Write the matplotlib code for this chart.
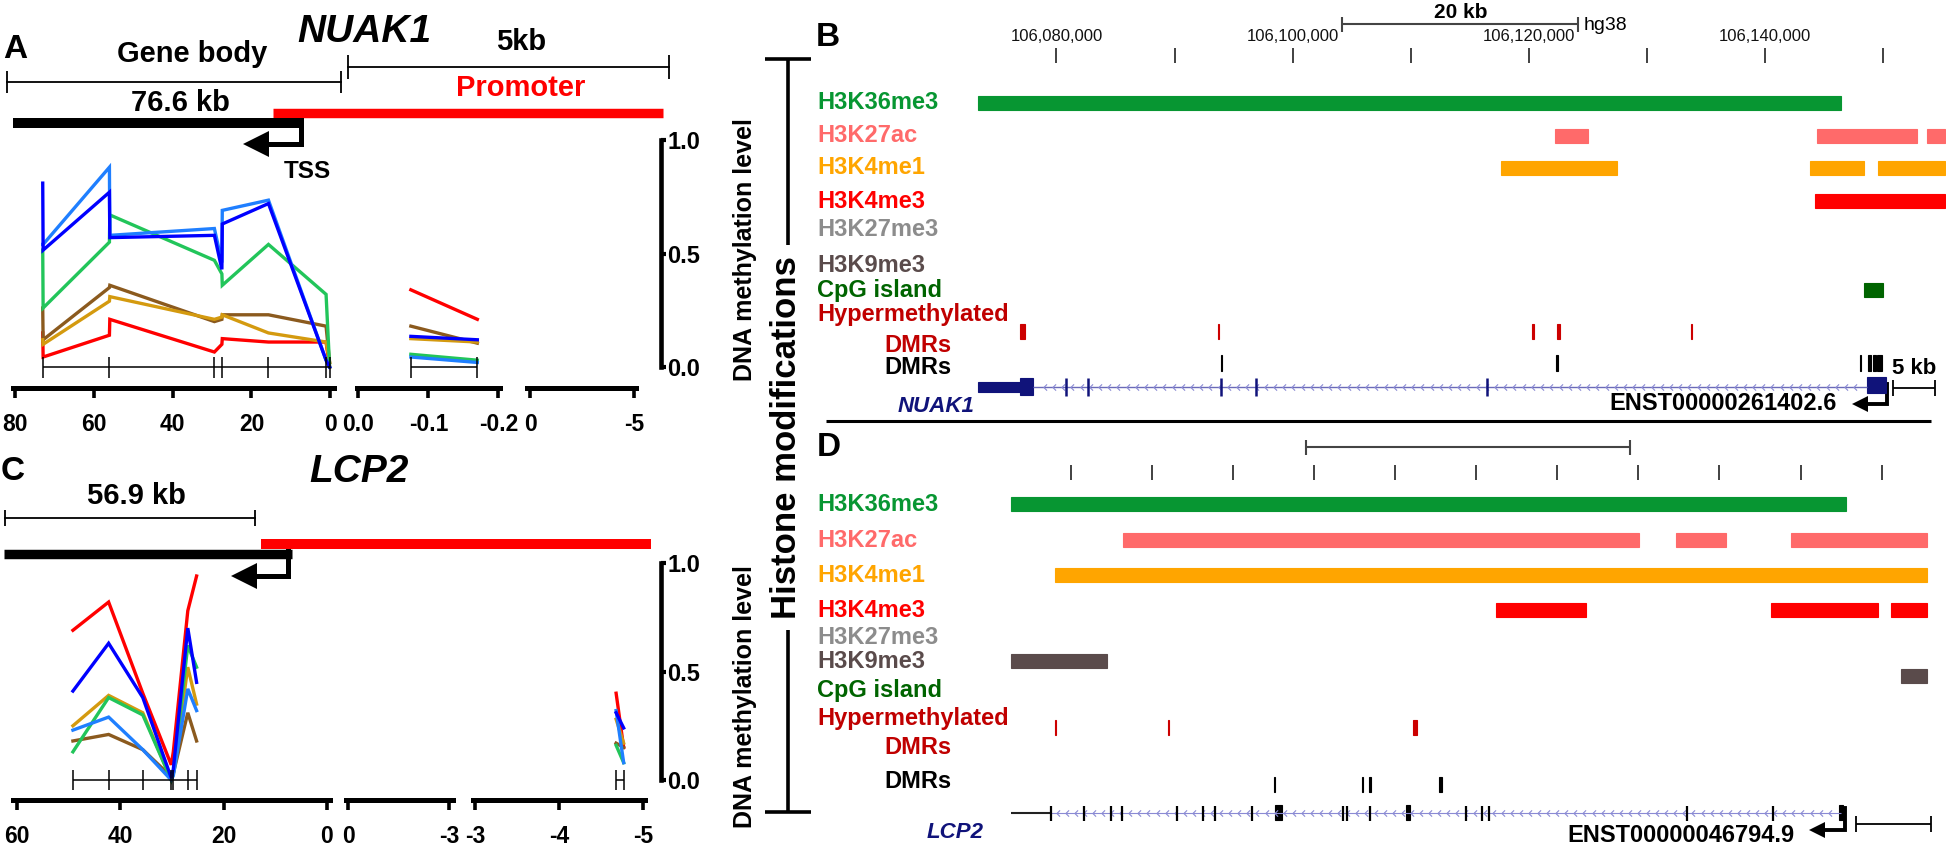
import numpy as np
import matplotlib.pyplot as plt
from matplotlib.path import Path

plt.rcParams['font.family'] = ['Liberation Sans', 'DejaVu Sans']
plt.rcParams['font.weight'] = 'bold'

W, H = 1946, 852

# ---------------- methylation data (kb from TSS, methylation level) ----------------
sample_colors = ['#ff0000', '#8b5a1e', '#d49a0f', '#22c55a', '#1f7fff', '#0000ff']

nuak1_body_kb = [72.9, 72.8, 56.0, 55.9, 29.4, 27.5, 27.4, 15.7, 1.1, 0.2]
nuak1_cpg_kb = [72.8, 56.0, 29.4, 27.4, 15.7, 1.1, 0.2]
nuak1_body_vals = [
    [0.15, 0.044, 0.14, 0.21, 0.066, 0.10, 0.125, 0.11, 0.11, 0.0],   # red
    [0.26, 0.12, 0.35, 0.36, 0.20, 0.21, 0.23, 0.23, 0.18, 0.02],     # brown
    [0.12, 0.10, 0.29, 0.31, 0.21, 0.22, 0.23, 0.15, 0.11, 0.02],     # gold
    [0.515, 0.26, 0.55, 0.67, 0.47, 0.41, 0.36, 0.54, 0.32, 0.0],     # green
    [0.54, 0.54, 0.88, 0.58, 0.61, 0.46, 0.69, 0.735, 0.03, 0.0],     # light blue
    [0.81, 0.515, 0.77, 0.57, 0.58, 0.43, 0.63, 0.72, 0.03, 0.0],     # blue
]
nuak1_prom_kb = [-0.075, -0.17]
nuak1_prom_vals = [
    [0.34, 0.21], [0.18, 0.105], [0.125, 0.11], [0.056, 0.03], [0.044, 0.02], [0.135, 0.12],
]

lcp2_body_kb = [49.1, 42.2, 35.6, 30.1, 29.7, 26.9, 25.2]
lcp2_body_vals = [
    [0.69, 0.82, 0.40, 0.07, 0.13, 0.78, 0.94],
    [0.18, 0.21, 0.14, 0.015, 0.03, 0.31, 0.18],
    [0.25, 0.39, 0.31, 0.0, 0.03, 0.52, 0.35],
    [0.13, 0.38, 0.30, 0.0, 0.03, 0.62, 0.52],
    [0.23, 0.29, 0.14, 0.0, 0.02, 0.42, 0.32],
    [0.41, 0.63, 0.38, 0.01, 0.05, 0.70, 0.45],
]
lcp2_prom_kb = [-4.68, -4.77]
lcp2_prom_vals = [
    [0.40, 0.15], [0.17, 0.15], [0.28, 0.17], [0.16, 0.08], [0.32, 0.08], [0.31, 0.24],
]

# ---------------- genome browser tracks ----------------
track_names = ['H3K36me3', 'H3K27ac', 'H3K4me1', 'H3K4me3', 'H3K27me3', 'H3K9me3', 'CpG island']
track_colors = ['#079632', '#ff6a6a', '#ffa500', '#ff0000', '#8c8c8c', '#5a4b4b', '#006400']

# NUAK1 (kb, position = 106,000,000 + kb*1000)
b_ticks_kb = [80, 90, 100, 110, 120, 130, 140, 150]
b_tick_labels = ['106,080,000', '', '106,100,000', '', '106,120,000', '', '106,140,000', '']
b_tracks = [
    [(73.35, 146.4)],
    [(122.2, 125.0), (144.4, 152.9), (153.7, 155.2)],
    [(117.6, 127.5), (143.8, 148.4), (149.6, 155.2)],
    [(144.2, 155.2)],
    [],
    [],
    [(148.4, 150.0)],
]
b_hyper = [(76.9, 77.3), (93.7, 93.8), (120.3, 120.4), (122.4, 122.6), (133.75, 133.85)]
b_dmrs = [(93.9, 94.0), (122.33, 122.43), (148.0, 148.1), (148.7, 148.95), (149.1, 149.4), (149.5, 149.9)]
b_exons = [80.8, 82.7, 93.9, 96.9, 116.45]
b_ruler = (104.2, 124.2)

# LCP2 (kb from first browser tick)
d_ticks_kb = [0, 5, 10, 15, 20, 25, 30, 35, 40, 45, 50]
d_tracks = [
    [(-3.7, 47.8)],
    [(3.26, 35.03), (37.3, 40.4), (44.4, 52.8)],
    [(-0.94, 52.8)],
    [(26.2, 31.8), (43.2, 49.8), (50.6, 52.8)],
    [],
    [(-3.7, 2.24)],
    [],
]
d_k9_extra = [(51.2, 52.8)]
d_hyper = [(-0.95, -0.89), (6.01, 6.07), (21.1, 21.35)]
d_dmrs = [(12.51, 12.57), (17.95, 18.01), (18.4, 18.5), (22.7, 22.9)]
d_exons = [-1.18, 0.85, 2.50, 3.14, 6.55, 8.16, 8.90, 11.17, 16.79, 17.03, 18.45,
           24.35, 25.36, 25.78, 37.98, 43.3]
d_exon_blocks = [(12.58, 13.05), (20.7, 20.95), (47.35, 47.6)]
d_ruler = (14.5, 34.5)


def rect(x0, y0, x1, y1):
    return [x0 / W, 1 - y1 / H, (x1 - x0) / W, (y1 - y0) / H]


fig = plt.figure(figsize=(W / 100, H / 100), dpi=100)
ov = fig.add_axes([0, 0, 1, 1])
ov.set_xlim(0, W)
ov.set_ylim(H, 0)
ov.axis('off')


def txt(x, y, s, size, color='black', ha='center', style='normal', rot=0, weight='bold'):
    ov.text(x, y, s, fontsize=size, color=color, ha=ha, va='center', style=style,
            rotation=rot, fontweight=weight)


def meth_axes(x0, x1, ytop, ybot, xlim, ylim, ticks, labels):
    ax = fig.add_axes(rect(x0, ytop, x1, ybot))
    ax.patch.set_alpha(0)
    ax.set_xlim(*xlim)
    ax.set_ylim(*ylim)
    for s in ['top', 'left', 'right']:
        ax.spines[s].set_visible(False)
    ax.spines['bottom'].set_linewidth(3.6)
    ax.set_yticks([])
    ax.set_xticks(ticks)
    ax.set_xticklabels(labels)
    ax.tick_params(axis='x', direction='out', length=7, width=2.6, labelsize=16.5, pad=11)
    return ax


def meth_lines(ax, kb, vals, cpg):
    for c, v in zip(sample_colors, vals):
        ax.plot(kb, v, color=c, lw=2.4, solid_joinstyle='miter')
    ax.hlines(0, min(cpg), max(cpg), color='black', lw=1.1)
    ax.vlines(cpg, -0.047, 0.045, color='black', lw=1.1)


def y_axis(ytop, ybot, ylim):
    ax = fig.add_axes(rect(600, ytop, 661, ybot))
    ax.patch.set_alpha(0)
    ax.set_ylim(*ylim)
    for s in ['top', 'left', 'bottom']:
        ax.spines[s].set_visible(False)
    ax.spines['right'].set_linewidth(3.3)
    ax.spines['right'].set_bounds(0, 1)
    ax.set_xticks([])
    ax.yaxis.tick_right()
    ax.set_yticks([0, 0.5, 1.0])
    ax.set_yticklabels(['0.0', '0.5', '1.0'])
    ax.tick_params(axis='y', direction='out', length=3.5, width=3.0, labelsize=17, pad=1)


# ---------------- panel A ----------------
ylimA = (-0.0925, 1.0)
a1 = meth_axes(12.5, 334, 140, 388, (80.56, -0.91), ylimA, [80, 60, 40, 20, 0],
               ['80', '60', '40', '20', '0'])
meth_lines(a1, nuak1_body_kb, nuak1_body_vals, nuak1_cpg_kb)
a2 = meth_axes(357, 500, 140, 388, (0.002, -0.2024), ylimA, [0, -0.1, -0.2],
               ['0.0', '-0.1', '-0.2'])
meth_lines(a2, nuak1_prom_kb, nuak1_prom_vals, nuak1_prom_kb)
a3 = meth_axes(527, 636, 140, 388, (0.145, -5.10), ylimA, [0, -5], ['0', '-5'])
y_axis(140, 388, ylimA)

txt(15, 50, 'A', 24)
txt(364, 32, 'NUAK1', 28, style='italic')
txt(192, 54, 'Gene body', 21)
txt(521, 42, '5kb', 21)
txt(521, 88, 'Promoter', 21, color='#ff0000')
txt(180, 103, '76.6 kb', 21)
txt(307, 172, 'TSS', 17.5)
ov.plot([7, 341], [82, 82], color='black', lw=1.3)
ov.vlines([7, 341], 71, 93, color='black', lw=1.3)
ov.plot([348, 669], [67, 67], color='black', lw=1.3)
ov.vlines([348, 669], 55, 79, color='black', lw=1.3)
ov.plot([273, 663], [112.5, 112.5], color='#ff0000', lw=6.8, solid_capstyle='butt')
ov.plot([13, 304], [123, 123], color='black', lw=7.2, solid_capstyle='butt')
ov.plot([301, 301, 262], [120, 144, 144], color='black', lw=3.6, solid_joinstyle='miter')
ov.plot([256], [144], marker='<', color='black', markersize=19, markeredgewidth=0)
txt(745, 250, 'DNA methylation level', 18, rot=90)

# ---------------- panel C ----------------
ylimC = (-0.092, 1.0)
c1 = meth_axes(13, 330, 563, 800, (60.68, -0.58), ylimC, [60, 40, 20, 0],
               ['60', '40', '20', '0'])
meth_lines(c1, lcp2_body_kb, lcp2_body_vals, lcp2_body_kb)
c2 = meth_axes(346, 453, 563, 800, (0.06, -3.12), ylimC, [0, -3], ['0', '-3'])
c3 = meth_axes(473, 645, 563, 800, (-2.976, -5.024), ylimC, [-3, -4, -5], ['-3', '-4', '-5'])
meth_lines(c3, lcp2_prom_kb, lcp2_prom_vals, lcp2_prom_kb)
y_axis(563, 800, ylimC)

txt(13, 472, 'C', 24)
txt(359, 472, 'LCP2', 28, style='italic')
txt(136, 496, '56.9 kb', 21)
ov.plot([4.5, 255], [518, 518], color='black', lw=1.3)
ov.vlines([4.5, 255], 510, 526, color='black', lw=1.3)
ov.plot([261, 651], [544, 544], color='#ff0000', lw=7.2, solid_capstyle='butt')
ov.plot([3.6, 292], [553.5, 553.5], color='black', lw=6.8, solid_capstyle='butt')
ov.plot([288, 288, 250], [551, 576, 576], color='black', lw=3.6, solid_joinstyle='miter')
ov.plot([244], [576], marker='<', color='black', markersize=19, markeredgewidth=0)
txt(745, 697, 'DNA methylation level', 18, rot=90)

# ---------------- histone bracket ----------------
ov.vlines(788, 59, 245, color='black', lw=2.6)
ov.vlines(788, 630, 812, color='black', lw=2.6)
ov.hlines([59, 812], 765, 811, color='black', lw=2.6)
txt(787, 438, 'Histone modifications', 25, rot=90)

chev = Path([(0.5, 1.0), (-0.5, 0.0), (0.5, -1.0)], [Path.MOVETO, Path.LINETO, Path.LINETO])


def bars(ax, intervals, y, h, color):
    for s, e in intervals:
        ax.barh(y, e - s, left=s, height=h, color=color, edgecolor=color, linewidth=0.8)


def browser_axes(ytop, ybot, xlim, ticks, labels):
    ax = fig.add_axes(rect(960, ytop, 1946, ybot))
    ax.patch.set_alpha(0)
    ax.set_xlim(*xlim)
    ax.set_ylim(ybot, ytop)
    for s in ax.spines.values():
        s.set_visible(False)
    ax.set_yticks([])
    ax.xaxis.tick_top()
    ax.set_xticks(ticks)
    ax.set_xticklabels(labels)
    ax.tick_params(axis='x', direction='out', length=10.8, width=1.3, color='#333333',
                   labelsize=12, pad=3, labelcolor='#111111')
    for t in ax.get_xticklabels():
        t.set_fontweight('normal')
    return ax


def track_labels(rows, red_y, black_y):
    for name, col, y in zip(track_names, track_colors, rows):
        txt(817, y, name, 17, color=col, ha='left')
    txt(817, red_y[0], 'Hypermethylated', 17, color='#c00000', ha='left')
    txt(884, red_y[1], 'DMRs', 17, color='#c00000', ha='left')
    txt(884, black_y, 'DMRs', 17, ha='left')


# ---------------- panel B ----------------
axB = browser_axes(63, 425, (71.83, 155.32), b_ticks_kb, b_tick_labels)
b_rows = [102.5, 135.5, 168, 201, 230, 265, 290]
for iv, y, c in zip(b_tracks, b_rows, track_colors):
    bars(axB, iv, y, 14, c)
bars(axB, b_hyper, 331, 15, '#cc0000')
bars(axB, b_dmrs, 363, 16, 'black')
navy = '#10137a'
axB.hlines(387, 78.0, 148.6, color='#6a6ab8', lw=1.0)
chev_b = np.arange(79.0, 148.3, 0.78)
axB.plot(chev_b, np.full(len(chev_b), 387), ls='none', marker=chev, markersize=4.5,
         mfc='none', mec='#8a8ad4', mew=0.8)
bars(axB, [(73.35, 76.9)], 387, 10, navy)
bars(axB, [(76.9, 78.0)], 386, 17, navy)
bars(axB, [(148.6, 150.2)], 385, 16, navy)
axB.vlines(b_exons, 378, 396, color=navy, lw=1.8)
axB.hlines(24, *b_ruler, color='#444444', lw=1.5, clip_on=False)
axB.vlines(b_ruler, 17, 32, color='#444444', lw=1.5, clip_on=False)
axB.text(sum(b_ruler) / 2, 12, '20 kb', ha='center', va='center', fontsize=15)
axB.text(b_ruler[1] + 0.4, 25, 'hg38', ha='left', va='center', fontsize=14, fontweight='normal')

track_labels(b_rows, (315, 345), 367)
txt(828, 37, 'B', 24)
txt(936, 407, 'NUAK1', 16, color=navy, style='italic')
txt(1723, 403, 'ENST00000261402.6', 17)
ov.plot([1887, 1887, 1866], [384, 404, 404], color='black', lw=2.8, solid_joinstyle='miter')
ov.plot([1860], [404], marker='<', color='black', markersize=12, markeredgewidth=0)
txt(1914, 368, '5 kb', 16)
ov.hlines(388, 1893, 1935, color='black', lw=1.3)
ov.vlines([1893, 1935], 380, 396, color='black', lw=1.3)
ov.hlines(421, 826, 1931, color='black', lw=2.2)

# ---------------- panel D ----------------
axD = browser_axes(480, 852, (-6.82, 53.97), d_ticks_kb, [''] * len(d_ticks_kb))
d_rows = [504.5, 540.5, 575.5, 610.5, 637, 661, 690]
for iv, y, c in zip(d_tracks, d_rows, track_colors):
    bars(axD, iv, y, 14, c)
bars(axD, d_k9_extra, 676, 14, track_colors[5])
bars(axD, d_hyper, 728, 15, '#cc0000')
bars(axD, d_dmrs, 784.5, 15, 'black')
axD.hlines(813, -3.7, -1.18, color='#222222', lw=1.5)
axD.hlines(813, -1.18, 47.5, color='#8a8ad4', lw=0.8)
chev_d = np.arange(-0.8, 47.2, 0.56)
axD.plot(chev_d, np.full(len(chev_d), 813), ls='none', marker=chev, markersize=4.5,
         mfc='none', mec='#8a8ad4', mew=0.8)
axD.vlines(d_exons, 806, 821, color='black', lw=1.6)
bars(axD, d_exon_blocks, 813, 15, 'black')
axD.hlines(447, *d_ruler, color='#444444', lw=1.5, clip_on=False)
axD.vlines(d_ruler, 440, 455, color='#444444', lw=1.5, clip_on=False)

track_labels(d_rows, (718, 747), 782)
txt(829, 448, 'D', 24)
txt(955, 833, 'LCP2', 16, color=navy, style='italic')
txt(1681, 835, 'ENST00000046794.9', 17)
ov.plot([1844.5, 1844.5, 1823], [808, 830, 830], color='black', lw=2.8, solid_joinstyle='miter')
ov.plot([1817], [830], marker='<', color='black', markersize=12, markeredgewidth=0)
ov.hlines(824, 1856, 1931, color='black', lw=1.3)
ov.vlines([1856, 1931], 816, 832, color='black', lw=1.3)

fig.savefig('out.png', dpi=100)
